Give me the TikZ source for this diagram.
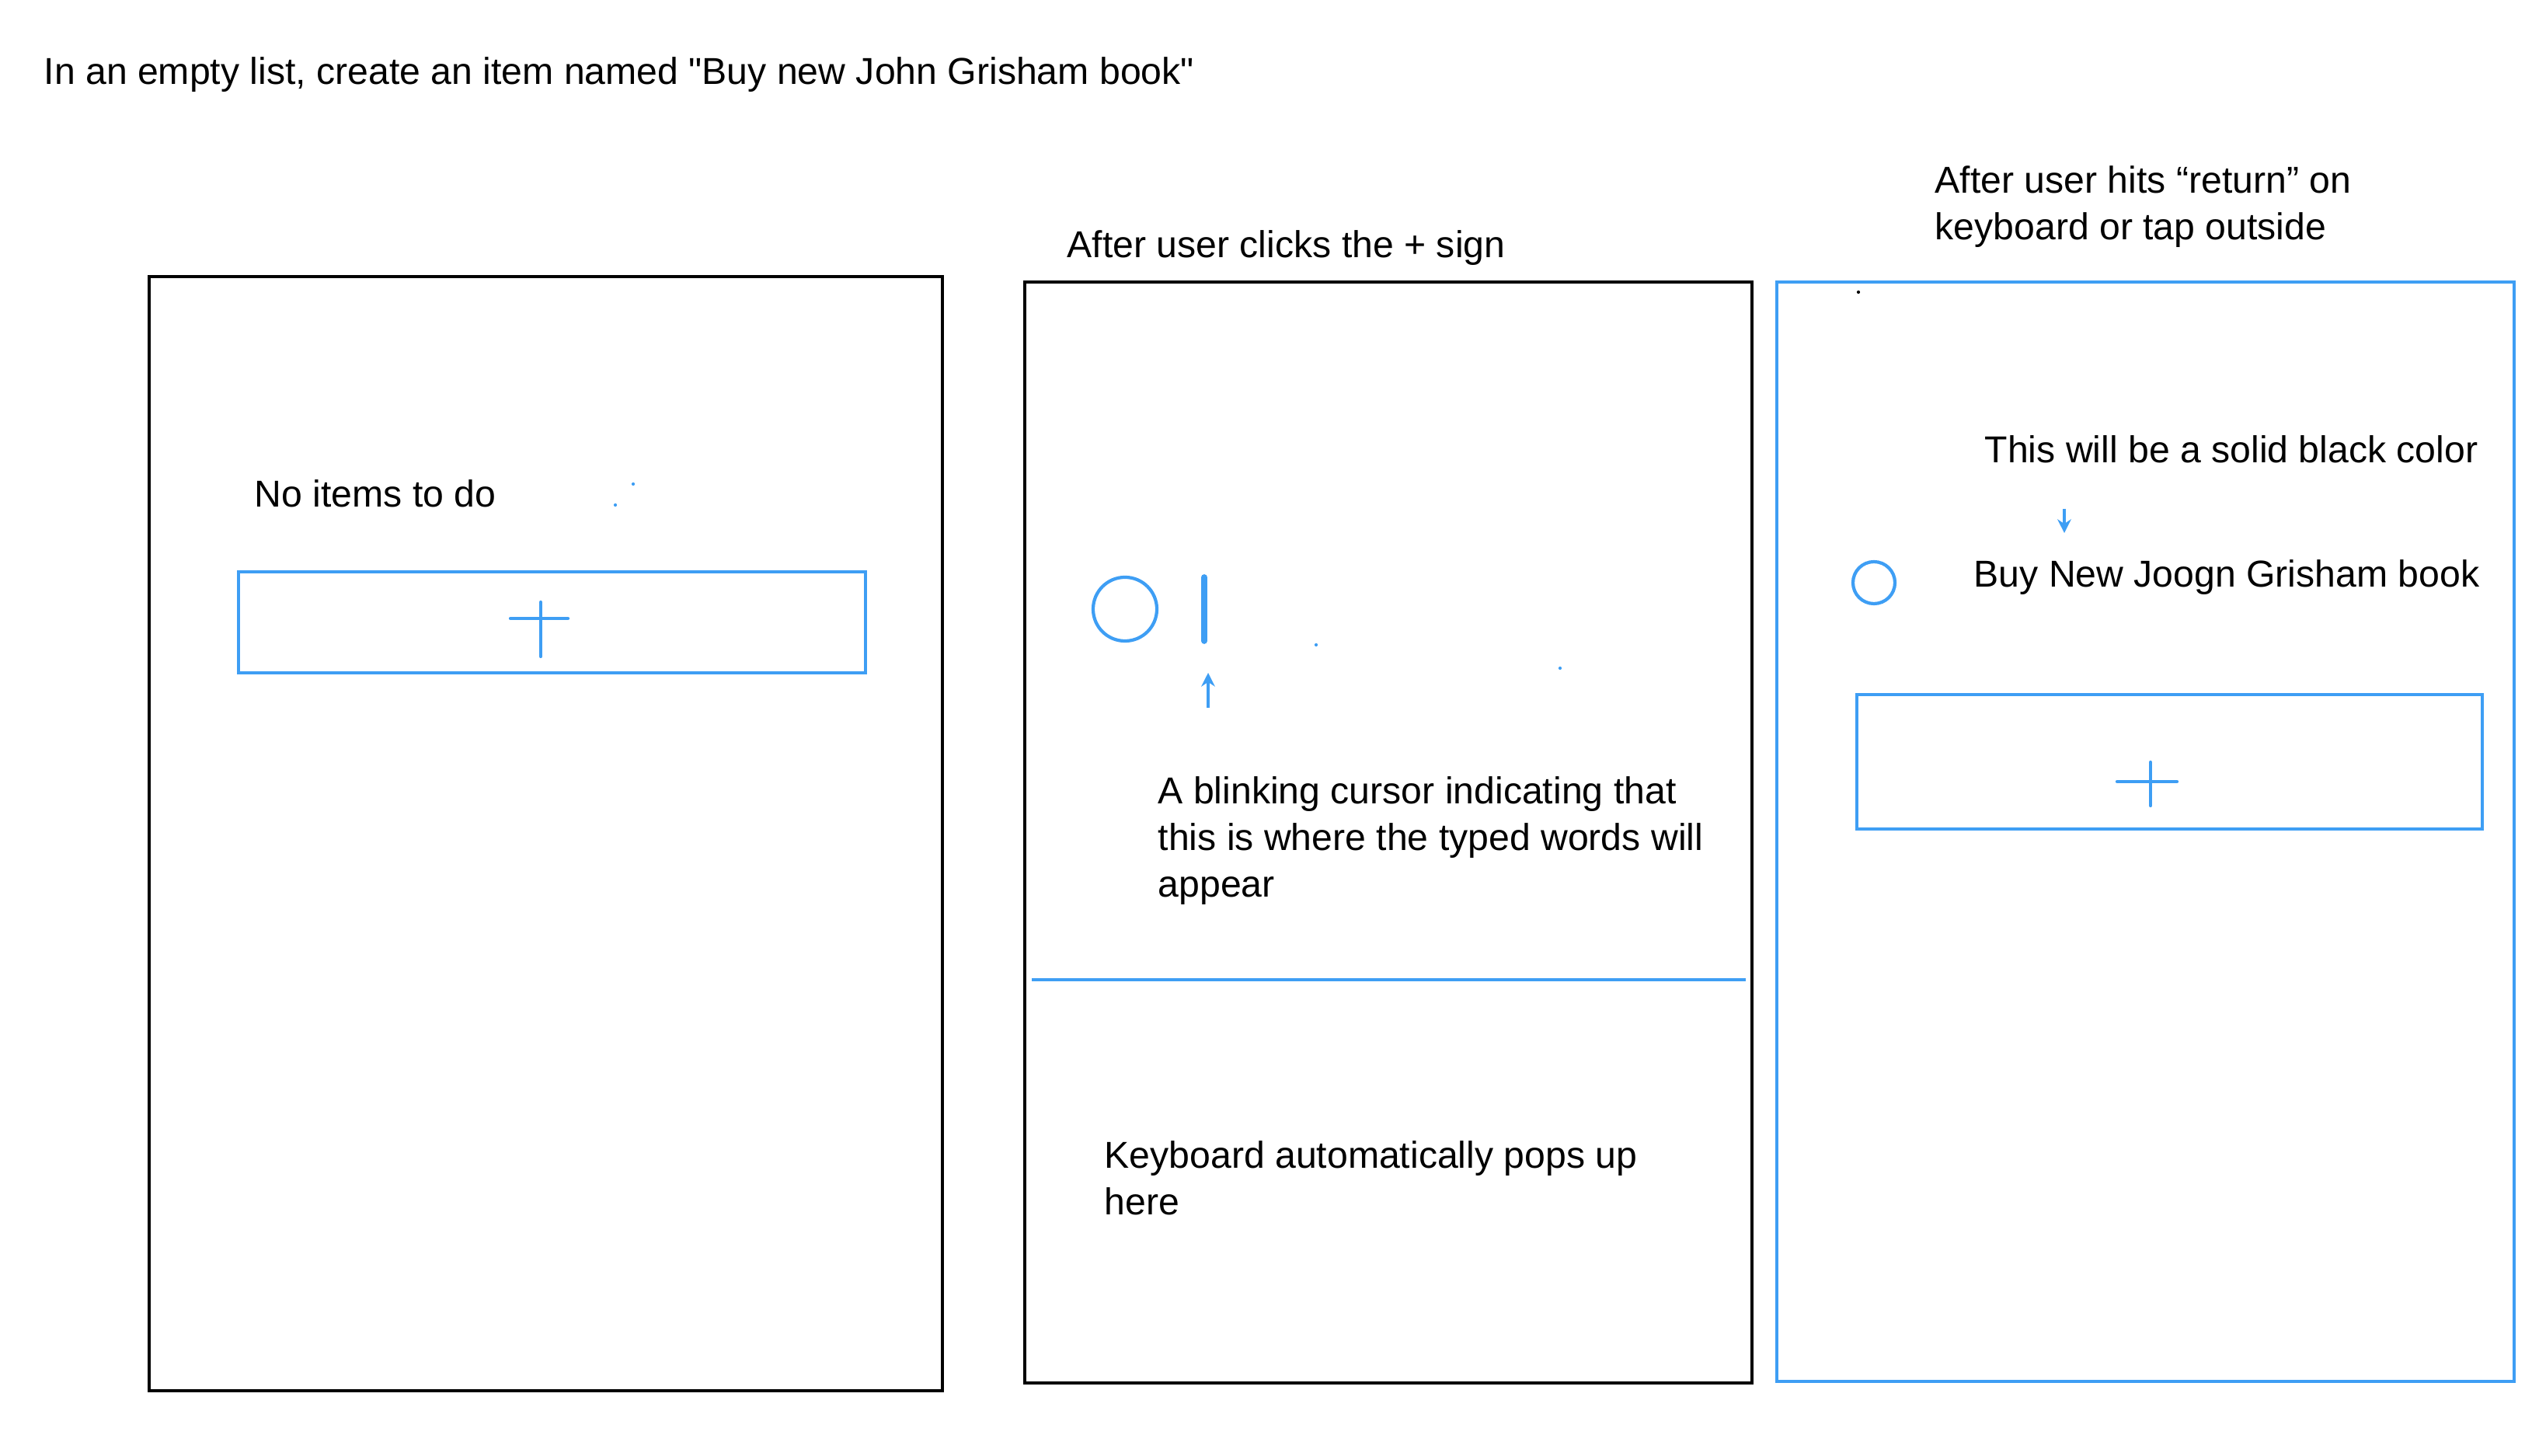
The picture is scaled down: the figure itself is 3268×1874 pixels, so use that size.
\documentclass[tikz,border=0pt]{standalone}
\usepackage{fontspec}
\setmainfont{Liberation Sans}
\usepackage{tikz}
\usetikzlibrary{positioning, arrows.meta}
\definecolor{sketchblue}{RGB}{62, 158, 244}
\tikzset{
    framebox/.style={
        draw=black, line width=1.4pt
    },
    bluebox/.style={
        draw=sketchblue, line width=1.2pt
    },
    ptr/.style={
        -{Stealth[length=5pt, width=5pt]}, sketchblue, line width=1pt
    },
    labeltext/.style={
        anchor=west, inner sep=0pt, align=left, font=\fontsize{13.7}{17.1}\selectfont
    }
}

\begin{document}
\begin{tikzpicture}[
        x=0.01cm, y=-0.01cm, % 1 unit = 1 pixel of the sketch
        % --- STYLE ---
        plusline/.style={draw=sketchblue, line width=1.2pt, line cap=round},
        cursorline/.style={draw=sketchblue, line width=2.2pt, line cap=round},
        checkcircle/.style={circle, draw=sketchblue, line width=1.2pt, inner sep=0pt},
        speck/.style={circle, fill=#1, inner sep=0pt, minimum size=1.2pt}
    ]
        \useasboundingbox (0,0) rectangle (3268,1874);

        \node[labeltext] (title) at (56,96) {In an empty list, create an item named \textquotedbl Buy new John Grisham book\textquotedbl};

        % ==========================================
        % SCREEN 1: EMPTY LIST
        % ==========================================
        \begin{scope}
            \draw[framebox] (192,356) rectangle (1213,1790);
            \node[labeltext] (empty1) at (327,635) {No items to do};
            \node[speck=sketchblue] (dot1a) at (792,650) {};
            \node[speck=sketchblue] (dot1b) at (815,623) {};

            \draw[bluebox] (307,736) rectangle (1114,866);
            \draw[plusline] (657,796) -- (731,796);
            \draw[plusline] (696,775) -- (696,845);
        \end{scope}

        % ==========================================
        % SCREEN 2: AFTER CLICKING +
        % ==========================================
        \begin{scope}
            \node[labeltext] (lbl2) at (1373,319) {After user clicks the + sign};
            \draw[framebox] (1319,363) rectangle (2255,1780);

            \node[checkcircle, minimum size=0.82cm] (circ2) at (1448,784) {};
            \coordinate (curtop) at (1550,743);
            \coordinate (curbot) at (1550,825);
            \draw[cursorline] (curtop) -- (curbot);
            \coordinate (arrbot) at (1555,911);
            \coordinate (arrtop) at (1555,866);
            \draw[ptr, line width=1.4pt] (arrbot) -- (arrtop);
            \node[speck=sketchblue] (dot2a) at (1694,830) {};
            \node[speck=sketchblue] (dot2b) at (2008,860) {};

            \node[labeltext] (note2) at (1490,1082) {A blinking cursor indicating that\\this is where the typed words will\\appear};

            \draw[bluebox] (1328,1261) -- (2247,1261);
            \node[labeltext] (kbd2) at (1421,1516) {Keyboard automatically pops up\\here};
        \end{scope}

        % ==========================================
        % SCREEN 3: AFTER RETURN
        % ==========================================
        \begin{scope}
            \node[labeltext] (lbl3) at (2490,266) {After user hits “return” on\\keyboard or tap outside};
            \draw[bluebox] (2287,363) rectangle (3236,1778);
            \node[speck=black] (dot3) at (2392,376) {};

            \node[labeltext] (note3) at (2554,578) {This will be a solid black color};
            \coordinate (arr3top) at (2657,655);
            \coordinate (arr3bot) at (2657,686);
            \draw[ptr] (arr3top) -- (arr3bot);

            \node[checkcircle, minimum size=0.54cm] (circ3) at (2412,750) {};
            \node[labeltext] (item3) at (2540,743) {Buy New Joogn Grisham book};

            \draw[bluebox] (2390,894) rectangle (3195,1067);
            \draw[plusline] (2725,1006) -- (2802,1006);
            \draw[plusline] (2768,981) -- (2768,1037);
        \end{scope}

    \end{tikzpicture}
\end{document}
